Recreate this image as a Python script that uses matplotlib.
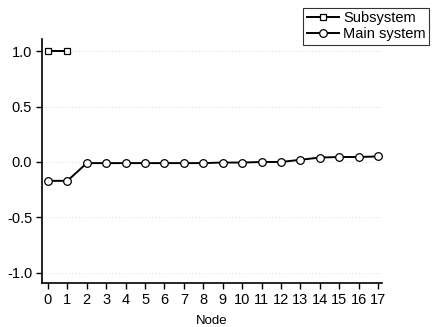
import matplotlib
matplotlib.use("Agg")
import matplotlib.pyplot as plt

plt.rcParams["font.family"] = ["Liberation Sans", "DejaVu Sans"]

# Data
sub_nodes = [0, 1]
sub_values = [1.0, 1.0]

main_nodes = list(range(18))
main_values = [-0.17, -0.17, -0.01, -0.01, -0.01, -0.01, -0.01, -0.01, -0.01,
               -0.005, -0.005, 0.0, 0.0, 0.02, 0.04, 0.045, 0.045, 0.05]

y_ticks = [-1.0, -0.5, 0.0, 0.5, 1.0]

fig = plt.figure(figsize=(4.37, 3.27), dpi=100)
ax = fig.add_axes([0.096, 0.135, 0.778, 0.746])

# faint dotted grid at the major y ticks
for yv in y_ticks:
    ax.axhline(yv, color="#cccccc", linestyle=(0, (1, 3)), linewidth=0.6, zorder=0)

ax.plot(sub_nodes, sub_values, color="black", linewidth=1.4, marker="s", markersize=5,
        markerfacecolor="white", markeredgecolor="black", markeredgewidth=0.9,
        label="Subsystem", zorder=3)
ax.plot(main_nodes, main_values, color="black", linewidth=1.4, marker="o", markersize=5.5,
        markerfacecolor="white", markeredgecolor="black", markeredgewidth=0.9,
        label="Main system", zorder=3)

ax.set_xlim(-0.31, 17.2)
ax.set_ylim(-1.09, 1.11)
ax.set_xticks(main_nodes)
ax.set_yticks(y_ticks)
ax.set_yticklabels([f"{v:.1f}" for v in y_ticks])
ax.tick_params(direction="out", length=4, width=1.0, labelsize=10.5, pad=3)
ax.set_xlabel("Node", fontsize=9.5, labelpad=6)

for side in ["top", "right"]:
    ax.spines[side].set_visible(False)
for side in ["left", "bottom"]:
    ax.spines[side].set_linewidth(1.2)

leg = fig.legend(loc="upper right", bbox_to_anchor=(0.999, 0.999), fontsize=10.5,
                 frameon=True, fancybox=False, edgecolor="black", handlelength=2.2,
                 handletextpad=0.3, borderpad=0.25, labelspacing=0.15)
leg.get_frame().set_linewidth(0.8)

fig.savefig("out.png", dpi=100)
